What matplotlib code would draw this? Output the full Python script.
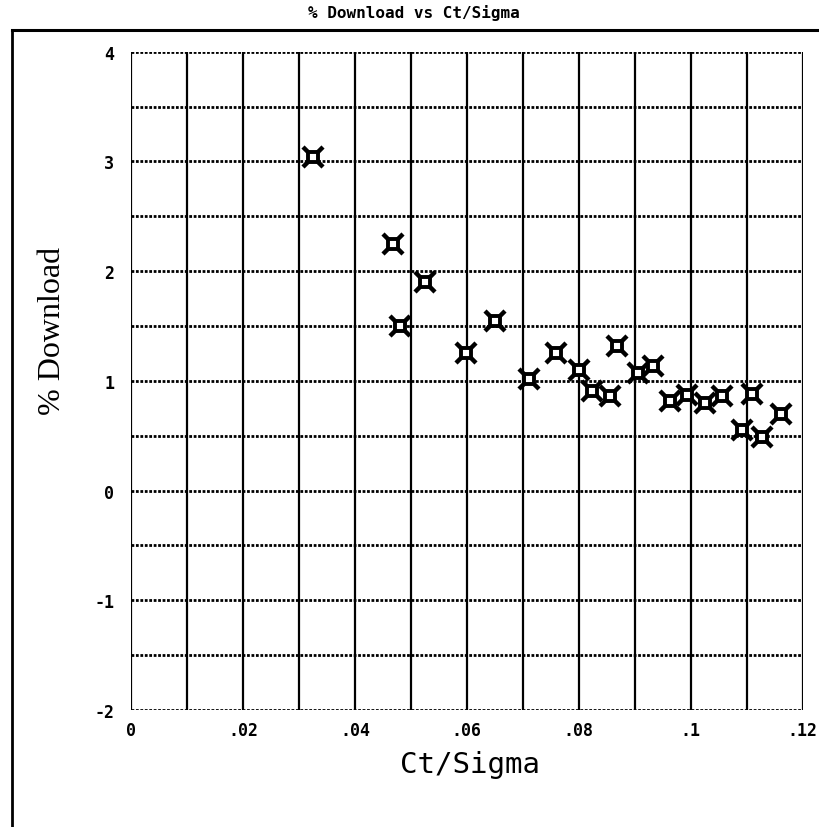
import matplotlib.pyplot as plt
from matplotlib.lines import Line2D
import numpy as np

# Values
ct_sigma = [0.0326, 0.0468, 0.0526, 0.0481, 0.0599, 0.0651, 0.0711, 0.0759,
            0.0801, 0.0823, 0.0856, 0.0868, 0.0906, 0.0933, 0.0963, 0.0994,
            0.1026, 0.1056, 0.1091, 0.1109, 0.1128, 0.1162]
pct_download = [3.04, 2.25, 1.90, 1.50, 1.25, 1.55, 1.02, 1.25,
                1.10, 0.91, 0.86, 1.32, 1.07, 1.14, 0.82, 0.87,
                0.80, 0.86, 0.55, 0.88, 0.49, 0.70]

x_ticks = [0, 0.02, 0.04, 0.06, 0.08, 0.10, 0.12]
x_tick_labels = ["0", ".02", ".04", ".06", ".08", ".1", ".12"]
y_ticks = [-2, -1, 0, 1, 2, 3, 4]
y_tick_labels = ["-2", "-1", "0", "1", "2", "3", "4"]

fig = plt.figure(figsize=(8.19, 8.28), dpi=100)
ax = fig.add_axes([0.160, 0.1413, 0.820, 0.795])

ax.set_xlim(0, 0.12)
ax.set_ylim(-2, 4)

# Grid: solid verticals, dotted horizontals
for xv in np.arange(0, 0.1201, 0.01):
    ax.axvline(xv, color="black", lw=1.6, zorder=1)
for yv in np.arange(-2, 4.01, 0.5):
    ax.axhline(yv, color="black", lw=2.0, ls=(0, (1, 0.6)), zorder=1)

for s in ax.spines.values():
    s.set_visible(False)

# Markers: an x with a hollow box on it
ax.plot(ct_sigma, pct_download, ls="none", marker="x", ms=14, mew=3.2,
        color="black", zorder=3)
ax.plot(ct_sigma, pct_download, ls="none", marker="s", ms=7, mew=2.8,
        mfc="white", mec="black", zorder=4)

ax.set_xticks(x_ticks)
ax.set_xticklabels(x_tick_labels)
ax.set_yticks(y_ticks)
ax.set_yticklabels(y_tick_labels)
ax.tick_params(length=0, labelsize=12, pad=8)
ax.tick_params(axis="y", pad=12)
for lab in ax.get_xticklabels() + ax.get_yticklabels():
    lab.set_fontfamily("DejaVu Sans Mono")
    lab.set_fontweight("bold")

# Labels and title
fig.text(0.574, 0.076, "Ct/Sigma", ha="center", va="center",
         fontsize=21, family="DejaVu Sans Mono")
fig.text(0.064, 0.60, "% Download", ha="center", va="center",
         fontsize=23, family="Liberation Serif", rotation=90)
fig.text(0.505, 0.984, "% Download vs Ct/Sigma", ha="center", va="center",
         fontsize=11.5, family="DejaVu Sans Mono", fontweight="bold")

# Outer frame lines of the printout
fig.add_artist(Line2D([0.0147, 1.0], [0.9626, 0.9626], color="black", lw=2.2,
                      transform=fig.transFigure))
fig.add_artist(Line2D([0.0147, 0.0147], [0.0, 0.9626], color="black", lw=2.0,
                      transform=fig.transFigure))

fig.savefig("out.png", dpi=100)
